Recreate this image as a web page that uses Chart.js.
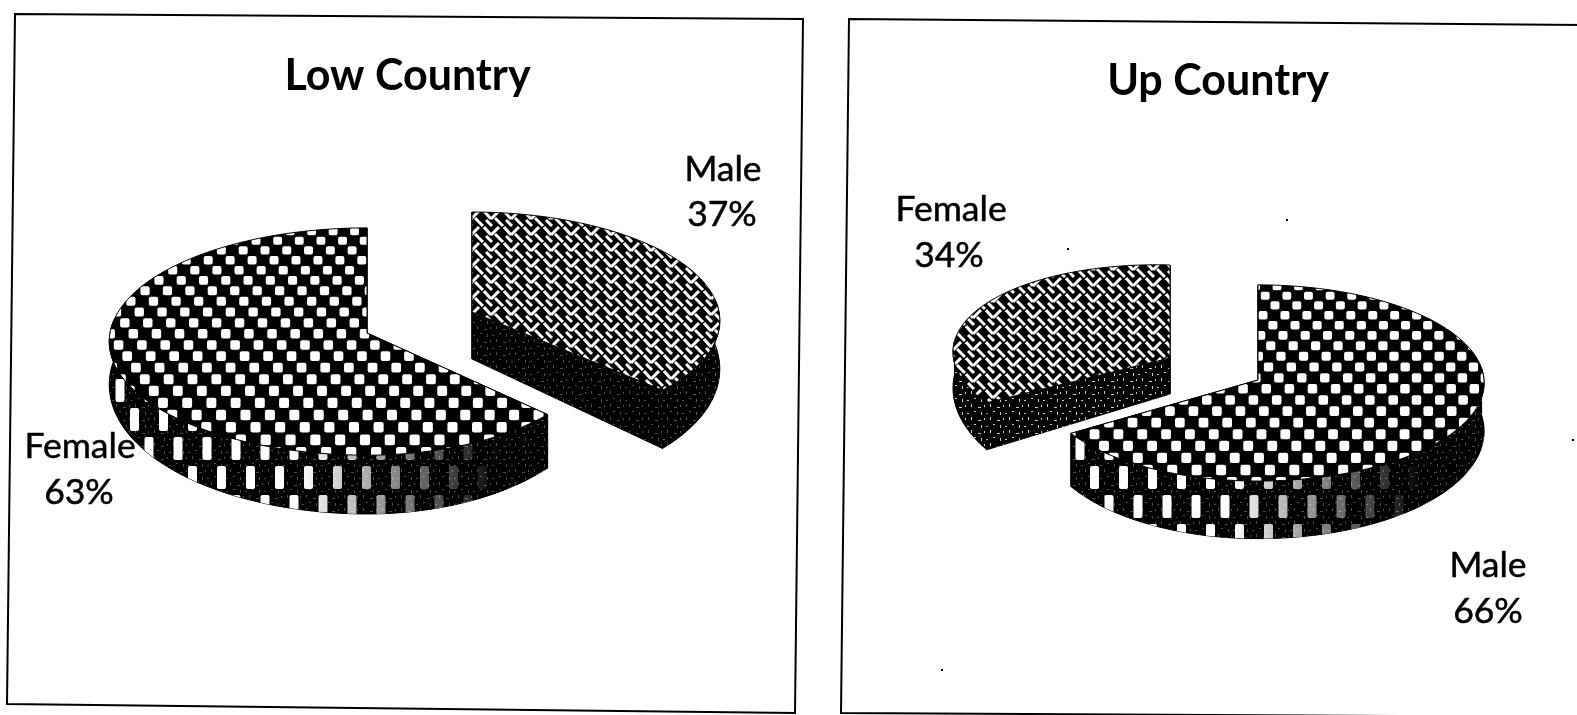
<!DOCTYPE html>
<html><head><meta charset="utf-8">
<script src="https://cdn.jsdelivr.net/npm/chart.js@4"></script>
<style>
html,body{margin:0;padding:0;background:#fff;width:1577px;height:715px;overflow:hidden}
canvas{position:absolute;top:0}
</style></head><body>
<canvas id="low" width="815" height="715" style="left:0"></canvas>
<canvas id="up" width="806" height="715" style="left:815px"></canvas>
<script>
const categoriesLow = ['Male', 'Female'];
const valuesLow = [37, 63];
const categoriesUp = ['Male', 'Female'];
const valuesUp = [66, 34];
const titleLow = 'Low Country';
const titleUp = 'Up Country';

const FONT = 'Lato, Carlito, sans-serif';

function tile(w, h, paint, clear) {
  const c = document.createElement('canvas');
  c.width = w; c.height = h;
  const x = c.getContext('2d');
  if (!clear) { x.fillStyle = '#000'; x.fillRect(0, 0, w, h); }
  x.fillStyle = '#fff'; x.strokeStyle = '#fff';
  for (const dx of [-w, 0, w]) for (const dy of [-h, 0, h]) {
    x.save(); x.translate(dx, dy); paint(x); x.restore();
  }
  return c;
}
function rr(x, px, py, w, h) { x.beginPath(); x.roundRect(px, py, w, h, 2); x.fill(); }
const wallTile = tile(29, 58, x => { rr(x, 0, 2, 9, 23); rr(x, 14.5, 31, 9, 23); });
const weaveTile = tile(20, 16, x => {
  x.lineWidth = 3; x.lineCap = 'butt';
  const seg = (a, b, c, d) => { x.beginPath(); x.moveTo(a, b); x.lineTo(c, d); x.stroke(); };
  seg(1, 1, 8, 9);
  seg(8, 9, 16, 1);
  seg(12, 8, 20, 16);
  seg(3, 10, 9, 16);
});
const speckTile = tile(19, 13, x => {
  x.fillRect(2, 1, 1, 3); x.fillRect(9, 4, 3, 1); x.fillRect(15, 2, 1, 2);
  x.fillRect(5, 8, 2, 1); x.fillRect(12, 9, 1, 3); x.fillRect(17, 10, 2, 1);
}, true);

// Checker texture whose cells grow towards the viewer, as on the tilted face.
function checkerTexture(t) {
  const c = document.createElement('canvas');
  c.width = 1700; c.height = 715;
  const x = c.getContext('2d');
  x.fillStyle = '#000'; x.fillRect(0, 0, 1700, 715);
  x.fillStyle = '#fff';
  const rowGap = y => 11.2 + (y - t.ay) * 0.016;
  const colGap = y => 23.3 + (y - t.ay) * 0.016;
  const phase = (t.ax - t.xc) / 23.3;
  const row = (y, odd) => {
    const sp = colGap(y), w = sp * 0.41, h = rowGap(y) * 0.85;
    const shift = (y - t.ay) * -0.11;
    for (let j = -30; j <= 30; j++) {
      const px = t.xc + (j + phase + (odd ? 0.5 : 0)) * sp + shift;
      x.beginPath(); x.roundRect(px - w / 2, y - h / 2, w, h, 2); x.fill();
    }
  };
  let y = t.ay, n = 0;
  while (y < 715) { row(y, n % 2); y += rowGap(y); n++; }
  y = t.ay; n = 0;
  while (y > 0) { y -= rowGap(y); n++; row(y, n % 2); }
  return c;
}

function project(g, a) {
  const u = Math.cos(a), v = Math.sin(a);
  const w = 1 - g.k * v;
  const ax = u < 0 ? g.aL : g.aR;
  return { x: g.cx + ax * u / w, y: g.cy + g.b * v / w + (g.sy || 0) * u, v };
}
function lower(g, p, v) { return { x: p.x, y: p.y + g.depth * (1 + g.dk * v) }; }
function poly(ctx, pts) {
  ctx.beginPath();
  pts.forEach((p, i) => i ? ctx.lineTo(p.x, p.y) : ctx.moveTo(p.x, p.y));
  ctx.closePath();
}

const pie3d = {
  id: 'pie3d',
  beforeDatasetDraw(chart) {
    const o = chart.options.plugins.pie3d;
    const ctx = chart.ctx;
    const arcs = chart.getDatasetMeta(0).data;
    ctx.save();
    ctx.translate(-o.ox, 0);
    // panel frame
    ctx.strokeStyle = '#000'; ctx.lineWidth = 2;
    poly(ctx, o.frame.map(p => ({ x: p[0], y: p[1] }))); ctx.stroke();
    // scan specks
    ctx.fillStyle = '#000';
    o.specks.forEach(s => ctx.fillRect(s[0], s[1], 2, 2));

    arcs.forEach((arc, i) => {
      const g = o.slices[i];
      const { startAngle: a1, endAngle: a2 } = arc.getProps(['startAngle', 'endAngle'], true);
      const N = 160, arcPts = [];
      for (let n = 0; n <= N; n++) arcPts.push(a1 + (a2 - a1) * n / N);
      const top = arcPts.map(a => project(g, a));
      const apex = { x: g.cx, y: g.cy };
      const apexB = lower(g, apex, 0);
      const ends = [top[0], top[N]];

      // cut faces
      ends.forEach(p => {
        const q = lower(g, p, p.v);
        poly(ctx, [apex, p, q, apexB]);
        ctx.fillStyle = '#000'; ctx.fill();
        ctx.strokeStyle = '#000'; ctx.lineWidth = 1; ctx.stroke();
        ctx.save(); ctx.clip();
        ctx.globalAlpha = g.cutSpeck;
        ctx.fillStyle = ctx.createPattern(speckTile, 'repeat');
        ctx.fillRect(0, 0, 1700, 715);
        ctx.restore();
      });

      // outer wall
      const idx = arcPts.map((a, n) => n).filter(n => Math.sin(arcPts[n]) > -0.12);
      const upper = idx.map(n => top[n]);
      const bottom = idx.map(n => lower(g, top[n], top[n].v));
      poly(ctx, upper.concat(bottom.slice().reverse()));
      ctx.fillStyle = '#000'; ctx.fill();
      ctx.strokeStyle = '#000'; ctx.lineWidth = 1; ctx.stroke();
      ctx.save(); ctx.clip();
      if (g.kind === 'checker') {
        const pat = ctx.createPattern(wallTile, 'repeat');
        pat.setTransform(new DOMMatrix().translate(g.wallX, g.wallY));
        ctx.fillStyle = pat; ctx.fillRect(0, 0, 1700, 715);
      }
      const grad = ctx.createLinearGradient(g.fadeFrom, 0, g.fadeTo, 0);
      grad.addColorStop(0, 'rgba(0,0,0,0)');
      grad.addColorStop(1, 'rgba(0,0,0,0.98)');
      ctx.fillStyle = grad; ctx.fillRect(0, 0, 1700, 715);
      ctx.globalAlpha = g.wallSpeck;
      ctx.fillStyle = ctx.createPattern(speckTile, 'repeat');
      ctx.fillRect(0, 0, 1700, 715);
      ctx.restore();

      // top face
      poly(ctx, [apex].concat(top));
      if (g.kind === 'checker') {
        ctx.save(); ctx.clip();
        ctx.drawImage(checkerTexture(g.texture), 0, 0);
        ctx.restore();
      } else {
        const pattern = ctx.createPattern(weaveTile, 'repeat');
        pattern.setTransform(new DOMMatrix().translate(g.patX, g.patY));
        ctx.fillStyle = pattern; ctx.fill();
      }
      ctx.strokeStyle = '#000'; ctx.lineWidth = 1; ctx.stroke();
    });

    // category labels
    const labels = chart.data.labels;
    const vals = chart.data.datasets[0].data;
    ctx.fillStyle = '#000'; ctx.strokeStyle = '#000'; ctx.lineWidth = 0.5;
    ctx.font = '35.5px ' + FONT;
    ctx.textAlign = 'center'; ctx.textBaseline = 'middle';
    labels.forEach((name, i) => {
      const l = o.labelAt[i], pct = vals[i] + '%';
      ctx.fillText(name, l[0], l[1]); ctx.strokeText(name, l[0], l[1]);
      ctx.fillText(pct, l[2], l[3]); ctx.strokeText(pct, l[2], l[3]);
    });
    ctx.restore();
    return false;
  }
};

function build(id, labels, values, title, titleTop, pie) {
  return new Chart(document.getElementById(id), {
    type: 'pie',
    data: { labels, datasets: [{ data: values, backgroundColor: '#000', borderWidth: 0 }] },
    options: {
      responsive: false, animation: false,
      events: [],
      plugins: {
        legend: { display: false }, tooltip: { enabled: false },
        title: { display: true, text: title, color: '#000',
          font: { family: FONT, size: 43, weight: 'bold' }, padding: { top: titleTop, bottom: 0 } },
        pie3d: pie
      }
    },
    plugins: [pie3d]
  });
}

build('low', categoriesLow, valuesLow, titleLow, 50, {
  ox: 0,
  frame: [[15, 14], [803, 19], [795, 713], [7, 704]],
  specks: [],
  labelAt: [[723, 170, 722, 215], [80, 447, 79, 493]],
  slices: [
    { kind: 'weave', cx: 472, cy: 312, aL: 247, aR: 247, b: 108, k: 0.08, depth: 47, dk: 0.35,
      fadeFrom: 300, fadeTo: 400, wallSpeck: 0.35, cutSpeck: 0.3, patX: 3, patY: 2 },
    { kind: 'checker', cx: 367, cy: 333, aL: 257, aR: 235, b: 113, k: 0.075, depth: 42, dk: 0.4,
      wallX: 130, wallY: 0, fadeFrom: 300, fadeTo: 500, wallSpeck: 0.3, cutSpeck: 0.3,
      texture: { xc: 367, ax: 305, ay: 345 } }
  ]
});
build('up', categoriesUp, valuesUp, titleUp, 55, {
  ox: 815,
  frame: [[849, 19], [1582, 25], [1582, 717], [841, 713]],
  specks: [[1286, 219], [1067, 248], [1572, 439], [941, 669]],
  labelAt: [[1488, 566, 1488, 612], [951, 210, 949, 256]],
  slices: [
    { kind: 'checker', cx: 1258, cy: 380, aL: 218, aR: 226, b: 98, k: 0.03, depth: 48, dk: 0.2,
      wallX: 1090, wallY: 0, fadeFrom: 1230, fadeTo: 1420, wallSpeck: 0.3, cutSpeck: 0.3,
      texture: { xc: 1258, ax: 1300, ay: 400 } },
    { kind: 'weave', cx: 1170, cy: 358, aL: 217, aR: 217, b: 93, k: 0, sy: 6, depth: 36, dk: 0.57,
      fadeFrom: 700, fadeTo: 800, wallSpeck: 0.8, cutSpeck: 0.8, patX: 5, patY: 5 }
  ]
});
</script>
</body></html>
